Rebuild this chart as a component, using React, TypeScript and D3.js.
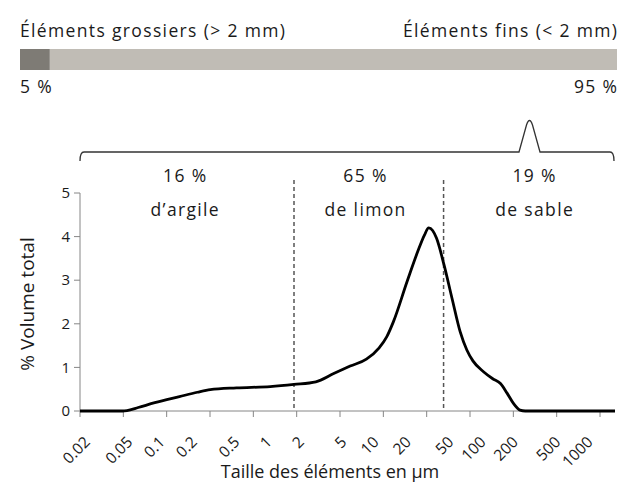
import React from 'react';
import * as d3 from 'd3';

// ---- Data ----
const sizesUm = [0.02, 0.05, 0.055, 0.07, 0.1, 0.17, 0.25, 0.33, 0.58, 1.2, 2, 3.2, 4.7, 6.7, 9.5, 12.5, 14.7, 17, 22.8, 28.6, 33.2, 36.3, 39.5, 43, 50.5, 60, 71.4, 82.5, 94, 118, 144, 170, 196, 224, 259, 290, 2000];
const volumes = [0, 0, 0.01, 0.08, 0.19, 0.33, 0.43, 0.49, 0.53, 0.56, 0.61, 0.67, 0.86, 1.03, 1.19, 1.45, 1.7, 2.05, 2.97, 3.65, 4.04, 4.2, 4.14, 3.96, 3.35, 2.58, 1.82, 1.4, 1.15, 0.9, 0.74, 0.63, 0.41, 0.18, 0.02, 0, 0];

const xTickValues = [0.02, 0.05, 0.1, 0.2, 0.5, 1, 2, 5, 10, 20, 50, 100, 200, 500, 1000];
const xTickLabels = ['0.02', '0.05', '0.1', '0.2', '0.5', '1', '2', '5', '10', '20', '50', '100', '200', '500', '1000'];
const yTickValues = [0, 1, 2, 3, 4, 5];

const classLimits = [2, 50];
const classPercents = ['16 %', '65 %', '19 %'];
const classNames = ['d’argile', 'de limon', 'de sable'];
const classLabelPos = [0.19, 9.2, 350];

const partNames = ['Éléments grossiers (> 2 mm)', 'Éléments fins (< 2 mm)'];
const partValues = [5, 95];

export default function App() {
  const W = 633, H = 488;
  const x = d3.scaleLog().domain([0.02, 2000]).range([80, 615]);
  const y = d3.scaleLinear().domain([0, 5]).range([411, 193]);
  const bar = d3.scaleLinear().domain([0, 100]).range([20, 617]);

  // evenly spaced tick marks (category-style axis), step in decades
  const stepDec = 0.405;
  const tickMarks = d3.range(0, 13).map(i => 0.02 * Math.pow(10, i * stepDec));

  const pts = sizesUm.map((d, i) => [x(d), y(volumes[i])] as [number, number]);
  const line = d3.line().curve(d3.curveMonotoneX)(pts) || '';

  const font = '"Open Sans", "Noto Sans", sans-serif';
  const txt = '#1a1a1a';
  const axisCol = '#868686';
  const hdr = { fontSize: 17.5, letterSpacing: 1.35 } as const;

  // brace geometry
  const bl = x(0.02), br = x(2000) - 1;
  const bY = 152, bEnd = 161;
  const pk = 529.5, pkW = 10.5, pkTop = 119;
  const brace = `M${bl},${bEnd} Q${bl},${bY} ${bl + 4},${bY} L${pk - pkW},${bY} L${pk - 3},${pkTop + 6} Q${pk},${pkTop - 3} ${pk + 3},${pkTop + 6} L${pk + pkW},${bY} L${br - 4},${bY} Q${br},${bY} ${br},${bEnd}`;

  let acc = 0;
  const segs = partValues.map(v => { const s = { a: acc, b: acc + v }; acc += v; return s; });

  return (
    <svg width={W} height={H} style={{ position: 'absolute', left: 0, top: 0, background: '#fff' }} fontFamily={font}>
      {/* top composition bar */}
      <text x={bar(0)} y={37} {...hdr} fill={txt}>{partNames[0]}</text>
      <text x={bar(100) + hdr.letterSpacing} y={37} {...hdr} fill={txt} textAnchor="end">{partNames[1]}</text>
      {segs.map((s, i) => (
        <rect key={i} x={bar(s.a)} y={49} width={bar(s.b) - bar(s.a)} height={21} fill={i === 0 ? '#7e7b75' : '#c0bcb5'} />
      ))}
      <text x={bar(0)} y={93} {...hdr} fill={txt}>{partValues[0]} %</text>
      <text x={bar(100) + hdr.letterSpacing} y={93} {...hdr} fill={txt} textAnchor="end">{partValues[1]} %</text>

      {/* brace */}
      <path d={brace} fill="none" stroke="#333" strokeWidth={1.3} />

      {/* class labels */}
      {classPercents.map((p, i) => (
        <g key={i}>
          <text x={x(classLabelPos[i]) + hdr.letterSpacing / 2} y={182} {...hdr} fill={txt} textAnchor="middle">{p}</text>
          <text x={x(classLabelPos[i]) + hdr.letterSpacing / 2} y={216} {...hdr} fill={txt} textAnchor="middle">{classNames[i]}</text>
        </g>
      ))}

      {/* class limit lines */}
      {classLimits.map((d, i) => (
        <line key={i} x1={x(d)} x2={x(d)} y1={180} y2={y(0)} stroke="#555" strokeWidth={1.5} strokeDasharray="4,3" />
      ))}

      {/* y axis */}
      <line x1={x(0.02)} x2={x(0.02)} y1={y(5)} y2={y(0)} stroke={axisCol} strokeWidth={1} />
      {yTickValues.map(v => (
        <g key={v}>
          <line x1={x(0.02) - 6} x2={x(0.02)} y1={y(v)} y2={y(v)} stroke={axisCol} />
          <text x={x(0.02) - 10} y={y(v)} dy="0.35em" fontSize={15} fill={txt} textAnchor="end">{v}</text>
        </g>
      ))}
      <text transform={`translate(34,${(y(0) + y(5)) / 2 + 2}) rotate(-90)`} fontSize={19} fill={txt} textAnchor="middle">% Volume total</text>

      {/* x axis */}
      <line x1={x(0.02)} x2={x(2000)} y1={y(0)} y2={y(0)} stroke={axisCol} strokeWidth={1} />
      {tickMarks.map((t, i) => (
        <line key={i} x1={x(t)} x2={x(t)} y1={y(0)} y2={y(0) + 6} stroke={axisCol} />
      ))}
      {xTickValues.map((v, i) => (
        <text key={i} transform={`translate(${x(v) + 11},${443}) rotate(-45)`} fontSize={15.5} fill={txt} textAnchor="end">{xTickLabels[i]}</text>
      ))}
      <text x={330} y={478} fontSize={18} fill={txt} textAnchor="middle">Taille des éléments en µm</text>

      {/* curve */}
      <path d={line} fill="none" stroke="#000" strokeWidth={2.8} strokeLinejoin="round" />
    </svg>
  );
}
